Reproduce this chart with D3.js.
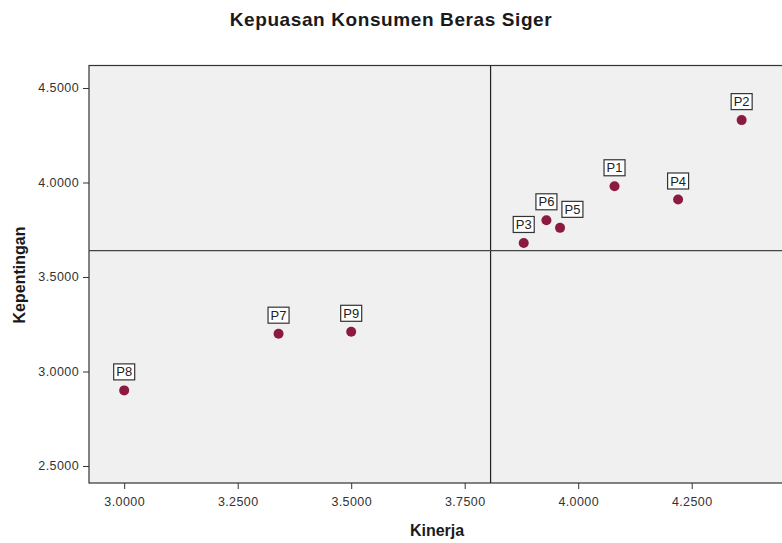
<!DOCTYPE html>
<html lang="en">
<head>
  <meta charset="UTF-8" />
  <title>Kepuasan Konsumen Beras Siger</title>
  <style>
    body { margin: 0; background: #fff; }
    svg { display: block; font-family: "Liberation Sans", Arial, sans-serif; }
  </style>
</head>
<body>
  <div id="chart"></div>

  <script src="https://d3js.org/d3.v7.min.js"></script>
  <script>
    // data
    const names = ["P1", "P2", "P3", "P4", "P5", "P6", "P7", "P8", "P9"]
    const kinerja = [4.08, 4.36, 3.88, 4.22, 3.96, 3.93, 3.34, 3.00, 3.50]
    const kepentingan = [3.98, 4.33, 3.68, 3.91, 3.76, 3.80, 3.20, 2.90, 3.21]
    const xTicks = [3.0, 3.25, 3.5, 3.75, 4.0, 4.25]
    const yTicks = [2.5, 3.0, 3.5, 4.0, 4.5]
    const refKinerja = 3.807
    const refKepentingan = 3.64

    const W = 782, H = 543
    const marginLeft = 89, marginTop = 65.5
    const pw = 706, ph = 417.5

    const x = d3.scaleLinear()
      .domain([2.9225, 4.4775])
      .range([0, pw])

    const y = d3.scaleLinear()
      .domain([2.41, 4.619])
      .range([ph, 0])

    const svg = d3.select("#chart")
      .append("svg")
      .attr("width", W)
      .attr("height", H)

    svg.append("rect")
      .attr("width", W).attr("height", H)
      .attr("fill", "#fff")

    svg.append("text")
      .attr("x", 391)
      .attr("y", 26)
      .attr("text-anchor", "middle")
      .style("font-size", "19px")
      .style("font-weight", "bold")
      .style("letter-spacing", "0.6px")
      .attr("fill", "#1a1a1a")
      .text("Kepuasan Konsumen Beras Siger")

    const plot = svg.append("g")
      .attr("transform", "translate(" + marginLeft + "," + marginTop + ")")

    plot.append("rect")
      .attr("width", pw).attr("height", ph)
      .attr("fill", "#f0f0f0")
      .attr("stroke", "#333")
      .attr("stroke-width", 1.2)

    // axes
    const ax = plot.append("g")
      .attr("transform", "translate(0," + ph + ")")
      .call(d3.axisBottom(x).tickValues(xTicks).tickSize(6).tickSizeOuter(0)
        .tickFormat(d3.format(".4f")))
    const ay = plot.append("g")
      .call(d3.axisLeft(y).tickValues(yTicks).tickSize(6).tickSizeOuter(0)
        .tickFormat(d3.format(".4f")))

    ;[ax, ay].forEach(function (a) {
      a.select(".domain").remove()
      a.selectAll("line").attr("stroke", "#333")
      a.selectAll("text")
        .attr("fill", "#333")
        .style("font-size", "12.5px")
        .style("letter-spacing", "0.4px")
        .style("font-family", "Liberation Sans, Arial, sans-serif")
    })
    ax.selectAll("text").attr("dy", "1.1em")
    ay.selectAll("text").attr("dx", "-1px")

    // reference lines
    plot.append("line")
      .attr("x1", x(refKinerja)).attr("x2", x(refKinerja))
      .attr("y1", 0).attr("y2", ph)
      .attr("stroke", "#222").attr("stroke-width", 1.2)
    plot.append("line")
      .attr("x1", 0).attr("x2", pw)
      .attr("y1", y(refKepentingan)).attr("y2", y(refKepentingan))
      .attr("stroke", "#444").attr("stroke-width", 1.2)

    // points + labels
    const pts = names.map(function (n, i) {
      return { name: n, kx: kinerja[i], ky: kepentingan[i] }
    })

    plot.selectAll("circle.pt")
      .data(pts)
      .enter().append("circle")
      .attr("class", "pt")
      .attr("cx", function (d) { return x(d.kx) })
      .attr("cy", function (d) { return y(d.ky) })
      .attr("r", 5)
      .attr("fill", "#8c1a3f")

    // label boxes above each point, nudged right when they collide
    const bw = 21, bh = 16
    const placed = []
    pts.slice().sort(function (a, b) { return a.kx - b.kx }).forEach(function (d) {
      let cx = x(d.kx), cy = y(d.ky) - 18.5
      placed.forEach(function (p) {
        if (Math.abs(p.cy - cy) < bh && Math.abs(p.cx - cx) < bw + 5) {
          cx = p.cx + bw + 5
        }
      })
      d.lx = cx
      d.ly = cy
      placed.push({ cx: cx, cy: cy })
    })

    const lab = plot.selectAll("g.lab")
      .data(pts)
      .enter().append("g")
      .attr("class", "lab")
      .attr("transform", function (d) {
        return "translate(" + d.lx + "," + d.ly + ")"
      })
    lab.append("rect")
      .attr("x", -bw / 2).attr("y", -bh / 2)
      .attr("width", bw).attr("height", bh)
      .attr("fill", "#fff")
      .attr("stroke", "#333")
      .attr("stroke-width", 1.2)
    lab.append("text")
      .attr("text-anchor", "middle")
      .attr("y", 4.5)
      .style("font-size", "13px")
      .attr("fill", "#222")
      .text(function (d) { return d.name })

    // axis titles
    svg.append("text")
      .attr("x", 437)
      .attr("y", 536)
      .attr("text-anchor", "middle")
      .style("font-size", "16px")
      .style("font-weight", "bold")
      .attr("fill", "#1a1a1a")
      .text("Kinerja")

    svg.append("text")
      .attr("transform", "translate(25,275) rotate(-90)")
      .attr("text-anchor", "middle")
      .style("font-size", "16px")
      .style("font-weight", "bold")
      .attr("fill", "#1a1a1a")
      .text("Kepentingan")
  </script>
</body>
</html>
